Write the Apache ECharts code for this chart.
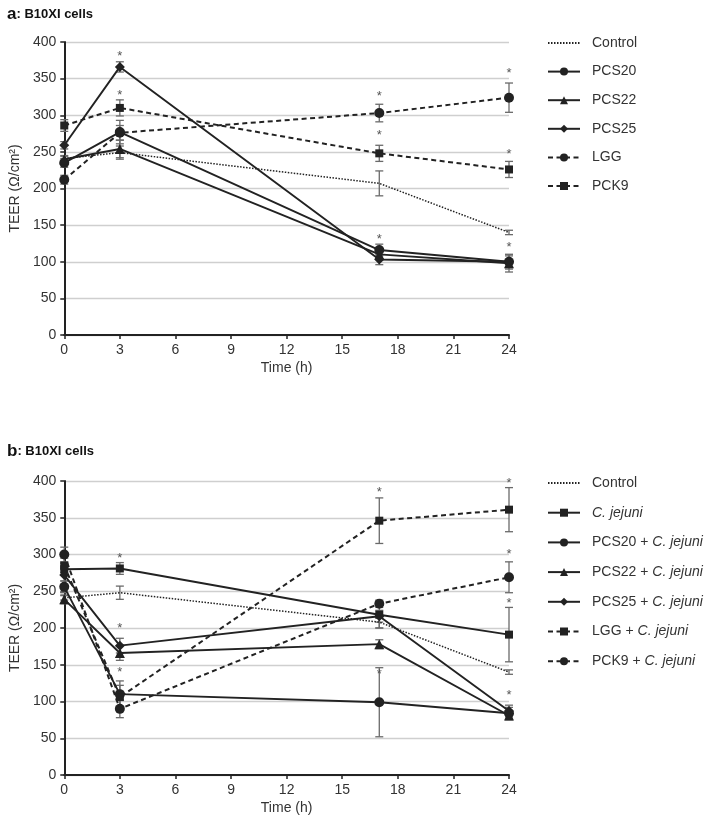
<!DOCTYPE html>
<html><head><meta charset="utf-8">
<script src="https://cdn.jsdelivr.net/npm/echarts@6/dist/echarts.min.js"></script>
<style>html,body{margin:0;padding:0;background:#fff}#c{width:709px;height:820px}</style>
</head><body><div id="c"></div>
<script>
// ---------- data ----------
const times = [0, 3, 17, 24];
const yTicks = [0, 50, 100, 150, 200, 250, 300, 350, 400];
const xTicks = [0, 3, 6, 9, 12, 15, 18, 21, 24];

// Panel a
const aNames = ['Control', 'PCS20', 'PCS22', 'PCS25', 'LGG', 'PCK9'];
const aControl = [241, 249, 207, 140];
const aPCS20 = [235, 277, 116, 100];
const aPCS22 = [240, 254, 110, 98];
const aPCS25 = [259, 366, 103, 100];
const aLGG = [212, 276, 303, 324];
const aPCK9 = [286, 310, 248, 226];
const aControlErr = [3, 9, 17, 3];
const aPCS20Err = [6, 16, 8, 10];
const aPCS22Err = [5, 12, 6, 12];
const aPCS25Err = [5, 7, 7, 8];
const aLGGErr = [6, 10, 12, 20];
const aPCK9Err = [8, 11, 11, 11];
const aStars = [[3, 380], [3, 327], [17, 326], [17, 273], [17, 131], [24, 357], [24, 246], [24, 119]];

// Panel b
const bNames = ['Control', 'C. jejuni', 'PCS20 + C. jejuni', 'PCS22 + C. jejuni', 'PCS25 + C. jejuni', 'LGG + C. jejuni', 'PCK9 + C. jejuni'];
const bControl = [241, 248, 208, 140];
const bCj = [280, 281, 218, 191];
const bPCS20 = [256, 110, 99, 84];
const bPCS22 = [239, 166, 178, 81];
const bPCS25 = [272, 176, 216, 87];
const bLGG = [285, 106, 346, 361];
const bPCK9 = [300, 90, 233, 269];
const bControlErr = [3, 9, 8, 3];
const bCjErr = [8, 8, 18, 37];
const bPCS20Err = [8, 18, 47, 8];
const bPCS22Err = [6, 10, 6, 6];
const bPCS25Err = [8, 10, 8, 8];
const bLGGErr = [10, 16, 31, 30];
const bPCK9Err = [10, 12, 5, 21];
const bStars = [[3, 294], [3, 199], [3, 139], [17, 384], [17, 137], [24, 397], [24, 300], [24, 233], [24, 108]];

// ---------- build ----------
const FONT = '"Liberation Sans", Arial, sans-serif';
function pts(v){ return times.map((t,i)=>[t, v[i]]); }
function errData(v, e){ return times.map((t,i)=>[t, v[i]-e[i], v[i]+e[i]]); }

const lineStyles = {
  dotted: {type:[1.5,1.5], width:1.5, color:'#222'},
  solid: {type:'solid', width:1.9, color:'#222'},
  dashed: {type:[5,3.5], width:2, color:'#222'}
};

function mkLine(name, values, g, style, symbol, size){
  return {
    type:'line', name:name, xAxisIndex:g, yAxisIndex:g,
    data: pts(values),
    symbol: symbol || 'none', symbolSize: size || 9, showSymbol: !!symbol,
    lineStyle: lineStyles[style], itemStyle:{color:'#222', borderWidth:0},
    z: 3, animation:false, emphasis:{disabled:true}
  };
}
function mkErr(values, errs, g){
  return {
    type:'custom', xAxisIndex:g, yAxisIndex:g, data: errData(values, errs),
    silent:true, animation:false, z:2,
    renderItem:function(params, api){
      const x = api.value(0);
      const lo = api.coord([x, api.value(1)]);
      const hi = api.coord([x, api.value(2)]);
      const w = 4;
      const st = {stroke:'#6a6a6a', lineWidth:1.3};
      return {type:'group', children:[
        {type:'line', shape:{x1:lo[0],y1:lo[1],x2:hi[0],y2:hi[1]}, style:st},
        {type:'line', shape:{x1:lo[0]-w,y1:lo[1],x2:lo[0]+w,y2:lo[1]}, style:st},
        {type:'line', shape:{x1:hi[0]-w,y1:hi[1],x2:hi[0]+w,y2:hi[1]}, style:st}
      ]};
    }
  };
}
function mkStars(stars, g){
  return {
    type:'custom', xAxisIndex:g, yAxisIndex:g, data: stars, silent:true, animation:false, z:4,
    renderItem:function(params, api){
      const p = api.coord([api.value(0), api.value(1)]);
      return {type:'text', x:p[0], y:p[1], style:{text:'*', fill:'#555', font:'13px '+FONT, align:'center', verticalAlign:'middle'}};
    }
  };
}

const series = [
  mkErr(aControl, aControlErr, 0), mkErr(aPCS20, aPCS20Err, 0), mkErr(aPCS22, aPCS22Err, 0),
  mkErr(aPCS25, aPCS25Err, 0), mkErr(aLGG, aLGGErr, 0), mkErr(aPCK9, aPCK9Err, 0),
  mkLine('a:' + aNames[0], aControl, 0, 'dotted', null),
  mkLine('a:' + aNames[1], aPCS20, 0, 'solid', 'circle', 10),
  mkLine('a:' + aNames[2], aPCS22, 0, 'solid', 'triangle', 10),
  mkLine('a:' + aNames[3], aPCS25, 0, 'solid', 'diamond', 10),
  mkLine('a:' + aNames[4], aLGG, 0, 'dashed', 'circle', 10),
  mkLine('a:' + aNames[5], aPCK9, 0, 'dashed', 'rect', 8),
  mkStars(aStars, 0),

  mkErr(bControl, bControlErr, 1), mkErr(bCj, bCjErr, 1), mkErr(bPCS20, bPCS20Err, 1),
  mkErr(bPCS22, bPCS22Err, 1), mkErr(bPCS25, bPCS25Err, 1), mkErr(bLGG, bLGGErr, 1), mkErr(bPCK9, bPCK9Err, 1),
  mkLine('b:' + bNames[0], bControl, 1, 'dotted', null),
  mkLine('b:' + bNames[1], bCj, 1, 'solid', 'rect', 8),
  mkLine('b:' + bNames[2], bPCS20, 1, 'solid', 'circle', 10),
  mkLine('b:' + bNames[3], bPCS22, 1, 'solid', 'triangle', 10),
  mkLine('b:' + bNames[4], bPCS25, 1, 'solid', 'diamond', 10),
  mkLine('b:' + bNames[5], bLGG, 1, 'dashed', 'rect', 8),
  mkLine('b:' + bNames[6], bPCK9, 1, 'dashed', 'circle', 10),
  mkStars(bStars, 1)
];

function fmtName(name){
  const n = name.slice(2);
  const idx = n.indexOf('C. jejuni');
  if (idx < 0) return '{s|}{n|' + n + '}';
  const pre = n.slice(0, idx);
  return '{s|}' + (pre ? '{n|' + pre + '}' : '') + '{i|C. jejuni}';
}
const legendText = {
  fontFamily: FONT, fontSize: 14, color:'#333',
  rich: {
    s:{width:7},
    n:{fontFamily:FONT, fontSize:14, color:'#333'},
    i:{fontFamily:FONT, fontSize:14, color:'#333', fontStyle:'italic'}
  }
};
function legendData(prefix, names){
  return names.map(n => n === 'Control'
    ? {name: prefix + n, itemStyle: {opacity: 0, color: 'rgba(0,0,0,0)'}}
    : prefix + n);
}

function xAxis(g){
  return {
    type:'value', gridIndex:g, min:0, max:24, interval:3,
    name:'Time (h)', nameLocation:'middle', nameGap:26,
    nameTextStyle:{fontFamily:FONT, fontSize:14, color:'#333'},
    axisLine:{show:true, onZero:false, lineStyle:{color:'#222', width:2}},
    axisTick:{show:true, inside:false, length:4, lineStyle:{color:'#222', width:1.5}},
    axisLabel:{fontFamily:FONT, fontSize:14, color:'#333', margin:8,
      formatter:function(v){ return xTicks.indexOf(v) >= 0 ? String(v) : ''; }},
    splitLine:{show:false}
  };
}
function yAxis(g){
  return {
    type:'value', gridIndex:g, min:0, max:400, interval:50,
    name:'TEER (Ω/cm²)', nameLocation:'middle', nameGap:40, nameRotate:90,
    nameTextStyle:{fontFamily:FONT, fontSize:14, color:'#333'},
    axisLine:{show:true, lineStyle:{color:'#222', width:2}},
    axisTick:{show:true, inside:false, length:4, lineStyle:{color:'#222', width:1.5}},
    axisLabel:{fontFamily:FONT, fontSize:14, color:'#333', margin:8,
      formatter:function(v){ return yTicks.indexOf(v) >= 0 ? String(v) : ''; }},
    splitLine:{show:true, lineStyle:{color:'#cfcfcf', width:1.3}}
  };
}

const option = {
  backgroundColor:'#fff',
  animation:false,
  title:[
    {text:'{b|a}{t|: B10XI cells}', left:2, top:1, textStyle:{rich:{
      b:{fontFamily:FONT, fontSize:17, fontWeight:'bold', color:'#111'},
      t:{fontFamily:FONT, fontSize:13, fontWeight:'bold', color:'#111'}}}},
    {text:'{b|b}{t|: B10XI cells}', left:2, top:438, textStyle:{rich:{
      b:{fontFamily:FONT, fontSize:17, fontWeight:'bold', color:'#111'},
      t:{fontFamily:FONT, fontSize:13, fontWeight:'bold', color:'#111'}}}}
  ],
  grid:[
    {left:59, right:200, top:42, bottom:485},
    {left:60, right:200, top:481, bottom:45}
  ],
  xAxis:[xAxis(0), xAxis(1)],
  yAxis:[yAxis(0), yAxis(1)],
  legend:[
    {orient:'vertical', left:542, top:31, itemWidth:32, itemHeight:10, itemGap:14.6,
     data: legendData('a:', aNames), formatter: fmtName, textStyle: legendText, selectedMode:false},
    {orient:'vertical', left:542, top:471, itemWidth:32, itemHeight:10, itemGap:15.7,
     data: legendData('b:', bNames), formatter: fmtName, textStyle: legendText, selectedMode:false}
  ],
  series: series
};
const chart = echarts.init(document.getElementById('c'), null, {renderer:'canvas'});
chart.setOption(option);
</script>
</body></html>
